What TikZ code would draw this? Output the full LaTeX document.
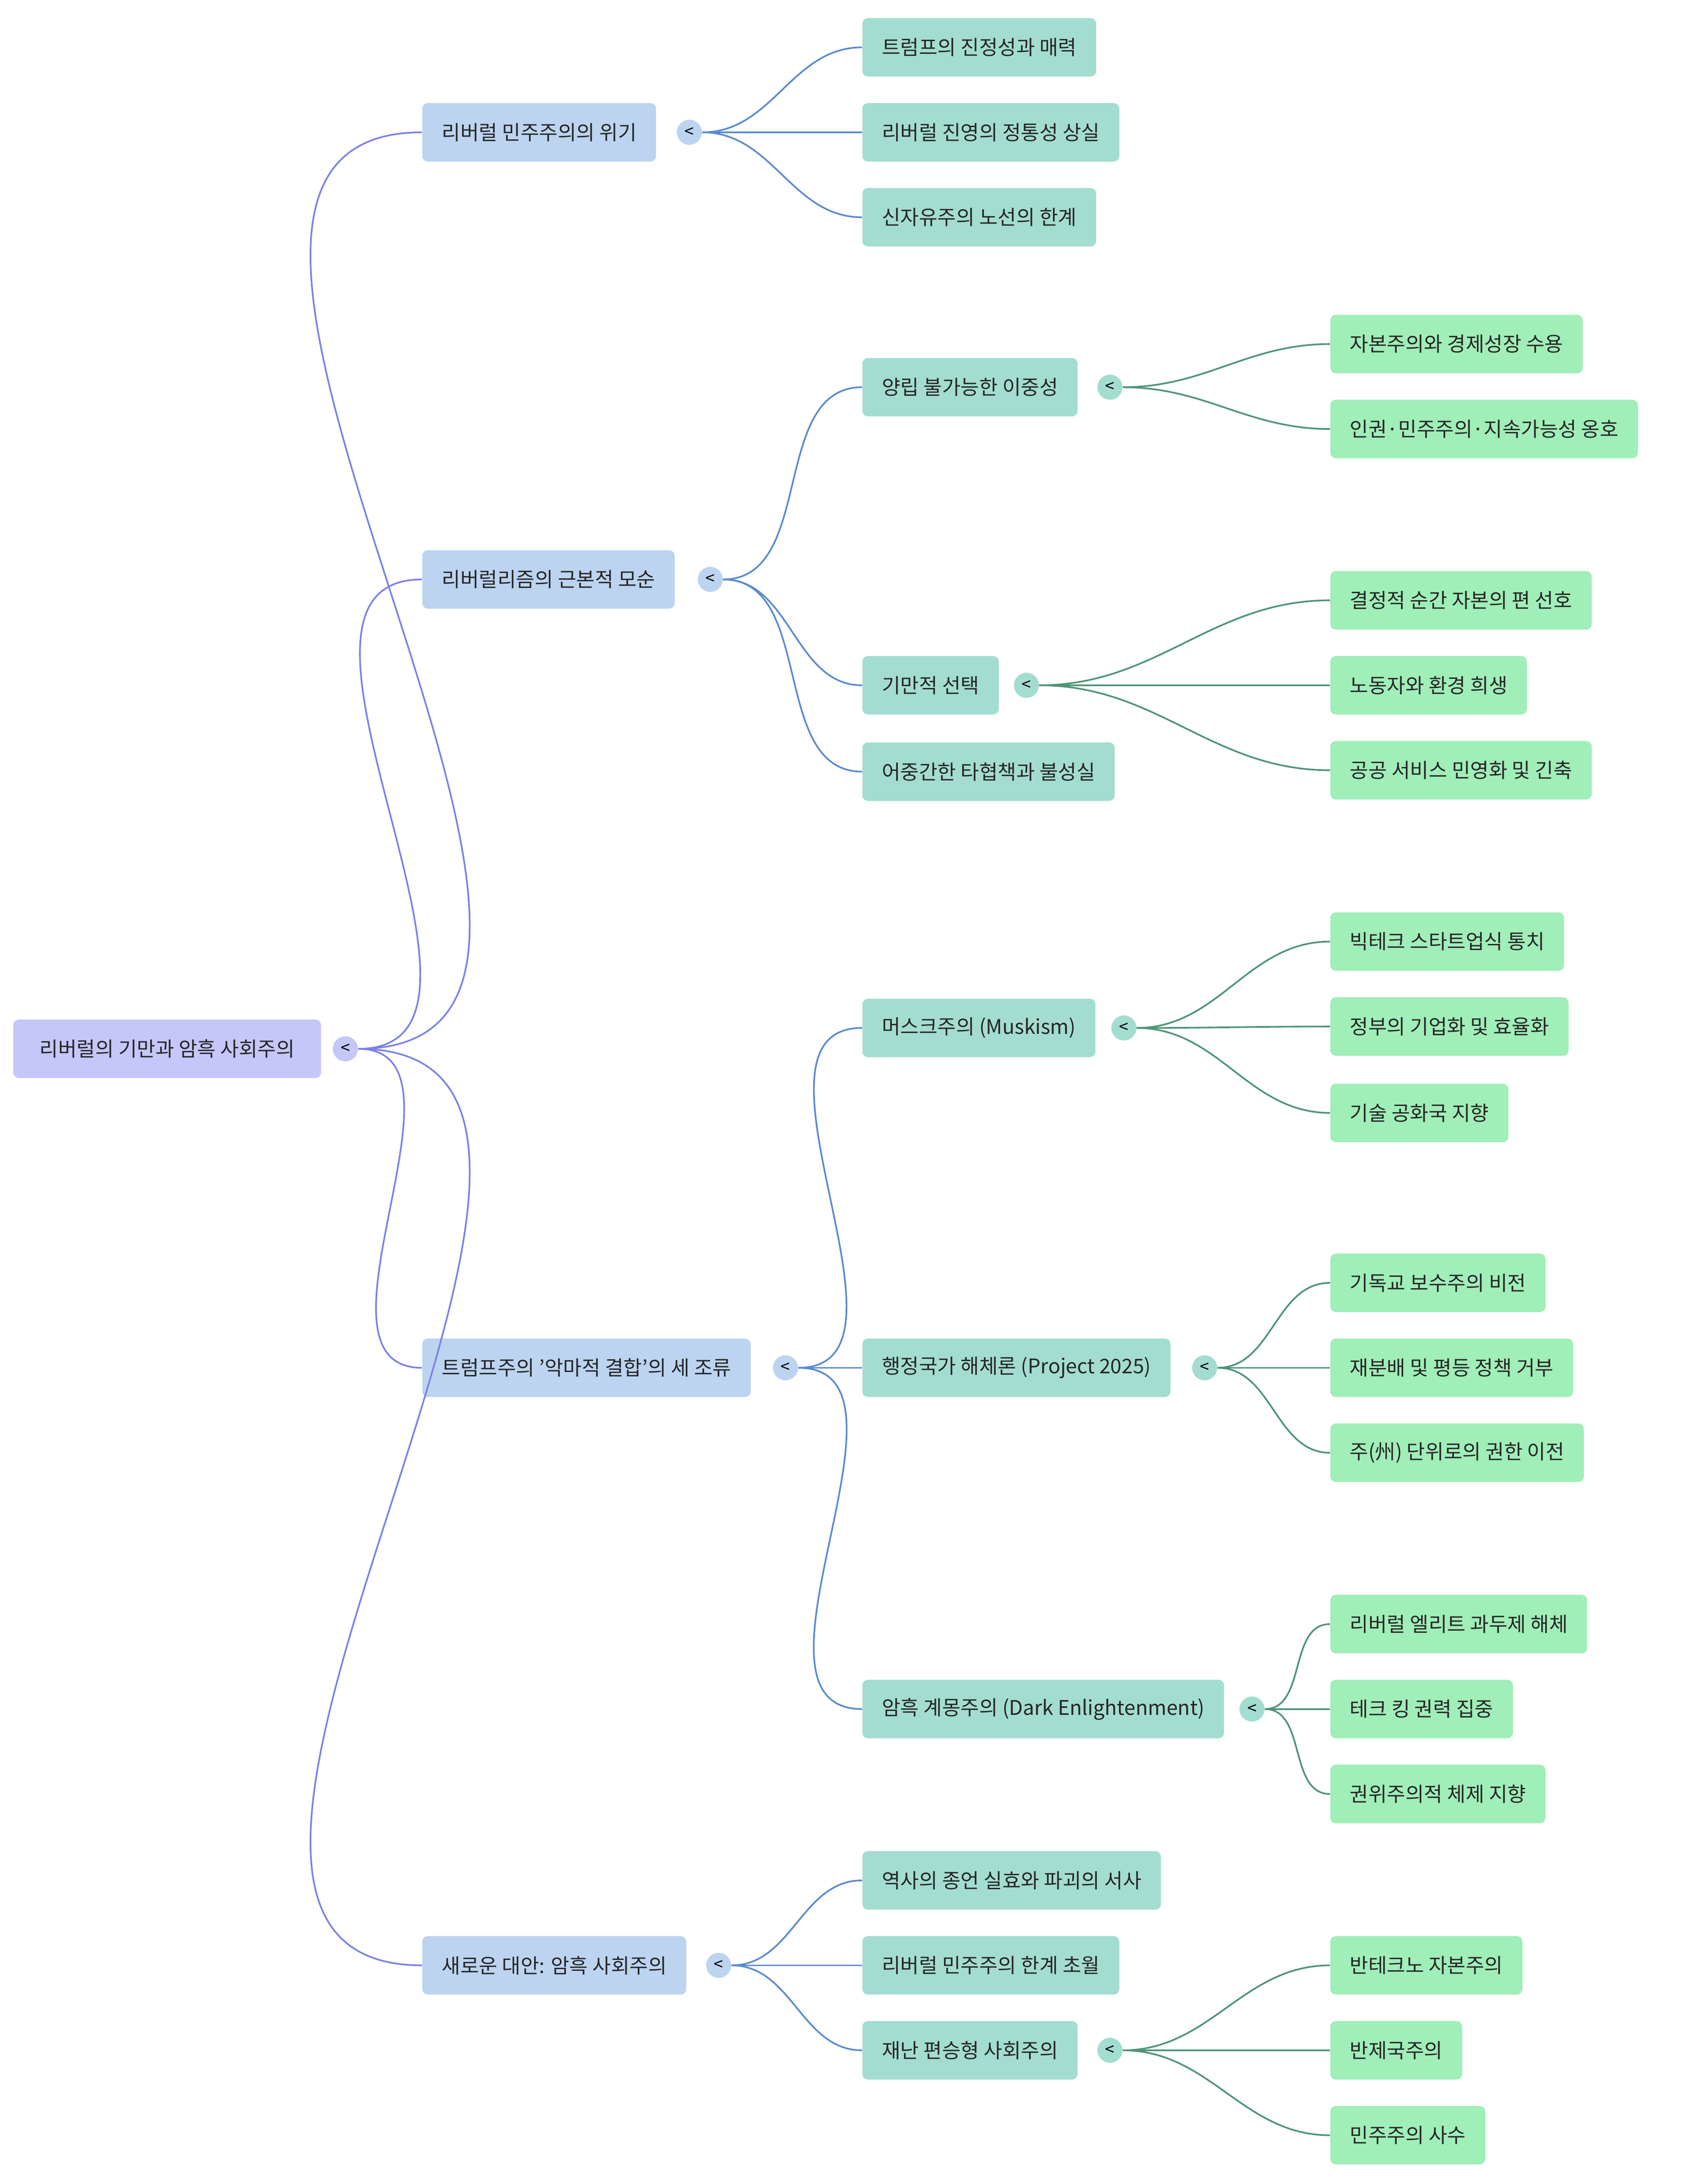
\documentclass[tikz,border=0pt]{standalone}
\usepackage{fontspec}
\setmainfont{Noto Sans CJK KR}
\begin{document}
\begin{tikzpicture}[x=1pt,y=-1pt,
 box/.style={anchor=west,rounded corners=4pt,minimum height=42pt,inner xsep=14pt,font=\fontsize{14.5pt}{17pt}\selectfont,text=black!85},
 r0/.style={box,anchor=center,fill=cR},
 l1/.style={box,fill=cA},
 l2/.style={box,fill=cB},
 l3/.style={box,fill=cC},
 cir/.style={circle,minimum size=18pt,inner sep=0pt,font=\fontsize{12pt}{12pt}\selectfont},
 e0/.style={draw=eR,line width=1.2pt},
 e1/.style={draw=eA,line width=1.2pt},
 e2/.style={draw=eB,line width=1.2pt}]
\definecolor{cR}{HTML}{C4C7F8}
\definecolor{cA}{HTML}{BCD4F0}
\definecolor{cB}{HTML}{A3DDD0}
\definecolor{cC}{HTML}{A0EEB8}
\definecolor{eR}{HTML}{7C82E6}
\definecolor{eA}{HTML}{5A8BD0}
\definecolor{eB}{HTML}{4E9478}
\useasboundingbox (0,0) rectangle (1212,1568);
% nodes
\node[r0,minimum width=221pt] (root) at (120,753) {리버럴의 기만과 암흑 사회주의};
\node[cir,fill=cR] (c0) at (248,753) {<};
\node[l1] (A) at (303,95) {리버럴 민주주의의 위기};
\node[cir,fill=cA] (cA) at (495,95) {<};
\node[l1] (B) at (303,416) {리버럴리즘의 근본적 모순};
\node[cir,fill=cA] (cB) at (510,416) {<};
\node[l1] (C) at (303,982) {트럼프주의 '악마적 결합'의 세 조류};
\node[cir,fill=cA] (cC) at (564,982) {<};
\node[l1] (D) at (303,1411) {새로운 대안: 암흑 사회주의};
\node[cir,fill=cA] (cD) at (516,1411) {<};
\node[l2] (A1) at (619,34) {트럼프의 진정성과 매력};
\node[l2] (A2) at (619,95) {리버럴 진영의 정통성 상실};
\node[l2] (A3) at (619,156) {신자유주의 노선의 한계};
\node[l2] (B1) at (619,278) {양립 불가능한 이중성};
\node[cir,fill=cB] (cB1) at (797,278) {<};
\node[l2] (B2) at (619,492) {기만적 선택};
\node[cir,fill=cB] (cB2) at (737,492) {<};
\node[l2] (B3) at (619,554) {어중간한 타협책과 불성실};
\node[l2] (C1) at (619,738) {머스크주의 (Muskism)};
\node[cir,fill=cB] (cC1) at (807,738) {<};
\node[l2] (C2) at (619,982) {행정국가 해체론 (Project 2025)};
\node[cir,fill=cB] (cC2) at (865,982) {<};
\node[l2] (C3) at (619,1227) {암흑 계몽주의 (Dark Enlightenment)};
\node[cir,fill=cB] (cC3) at (899,1227) {<};
\node[l2] (D1) at (619,1350) {역사의 종언 실효와 파괴의 서사};
\node[l2] (D2) at (619,1411) {리버럴 민주주의 한계 초월};
\node[l2] (D3) at (619,1472) {재난 편승형 사회주의};
\node[cir,fill=cB] (cD3) at (797,1472) {<};
\node[l3] (B11) at (955,247) {자본주의와 경제성장 수용};
\node[l3] (B12) at (955,308) {인권·민주주의·지속가능성 옹호};
\node[l3] (B21) at (955,431) {결정적 순간 자본의 편 선호};
\node[l3] (B22) at (955,492) {노동자와 환경 희생};
\node[l3] (B23) at (955,553) {공공 서비스 민영화 및 긴축};
\node[l3] (C11) at (955,676) {빅테크 스타트업식 통치};
\node[l3] (C12) at (955,737) {정부의 기업화 및 효율화};
\node[l3] (C13) at (955,799) {기술 공화국 지향};
\node[l3] (C21) at (955,921) {기독교 보수주의 비전};
\node[l3] (C22) at (955,982) {재분배 및 평등 정책 거부};
\node[l3] (C23) at (955,1043) {주(州) 단위로의 권한 이전};
\node[l3] (C31) at (955,1166) {리버럴 엘리트 과두제 해체};
\node[l3] (C32) at (955,1227) {테크 킹 권력 집중};
\node[l3] (C33) at (955,1288) {권위주의적 체제 지향};
\node[l3] (D31) at (955,1411) {반테크노 자본주의};
\node[l3] (D32) at (955,1472) {반제국주의};
\node[l3] (D33) at (955,1533) {민주주의 사수};
% edges
\begin{scope}[on background layer/.style={}]
\end{scope}
\begin{pgfonlayer}{main}\end{pgfonlayer}
\foreach \t in {A,B,C,D} \draw[e0] (c0.east) to[out=0,in=180] (\t.west);
\foreach \p/\t in {cA/A1,cA/A2,cA/A3,cB/B1,cB/B2,cB/B3,cC/C1,cC/C2,cC/C3,cD/D1,cD/D2,cD/D3}
  \draw[e1] (\p.east) to[out=0,in=180] (\t.west);
\foreach \p/\t in {cB1/B11,cB1/B12,cB2/B21,cB2/B22,cB2/B23,cC1/C11,cC1/C12,cC1/C13,cC2/C21,cC2/C22,cC2/C23,cC3/C31,cC3/C32,cC3/C33,cD3/D31,cD3/D32,cD3/D33}
  \draw[e2] (\p.east) to[out=0,in=180] (\t.west);
\end{tikzpicture}
\end{document}
